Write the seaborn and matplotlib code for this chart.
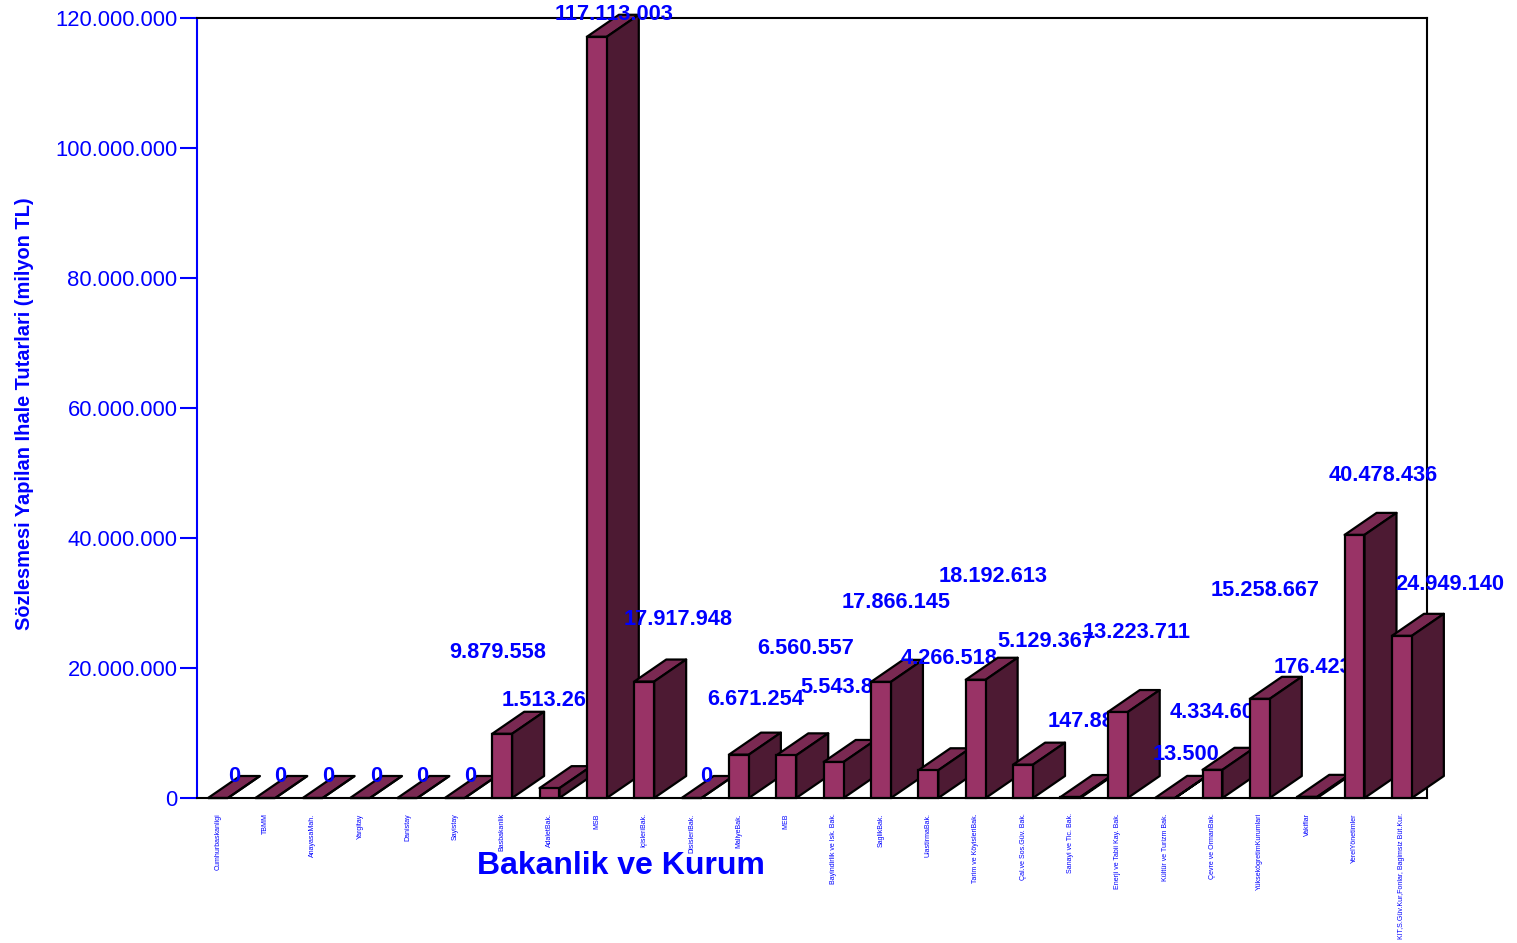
import matplotlib
matplotlib.use('Agg')
import matplotlib.pyplot as plt
from matplotlib.patches import Polygon
from matplotlib.ticker import FuncFormatter
import pandas as pd
import seaborn as sns

kurumlar = ['Cumhurbaskanligi', 'TBMM', 'AnayasaMah.', 'Yargitay', 'Danistay', 'Sayistay',
            'Basbakanlik', 'AdaletBak.', 'MSB', 'IçisleriBak.', 'DisisleriBak.', 'MaliyeBak.',
            'MEB', 'Bayindirlik ve Isk. Bak.', 'SaglikBak.', 'UlastirmaBak.',
            'Tarim ve KöyisleriBak.', 'Çal.ve Sos.Güv. Bak.', 'Sanayi ve Tic. Bak.',
            'Enerji ve Tabii Kay. Bak.', 'Kültür ve Turizm Bak.', 'Çevre ve OrmanBak.',
            'YüksekögretimKurumlari', 'Vakiflar', 'YerelYönetimler',
            'KIT,S.Güv.Kur,Fonlar, Bagimsiz Büt.Kur.']
tutarlar = [0, 0, 0, 0, 0, 0, 9879558, 1513262, 117113003, 17917948, 0, 6671254, 6560557,
            5543840, 17866145, 4266518, 18192613, 5129367, 147880, 13223711, 13500, 4334600,
            15258667, 176423, 40478436, 24949140]
y_ticks = [0, 20000000, 40000000, 60000000, 80000000, 100000000, 120000000]

# etiketlerin cubuk tepesine gore kaymasi (piksel)
label_dx = [16, 14.6, 15.3, 16, 14.6, 15.2, -4, 1, 17.2, 33.9, 14.5, 17, 19.8, 15, 15, 20.8,
            17.4, 23, 16.7, 18.4, 21, 6, 5.3, 6, 28.6, 48]
label_dy = [21, 21, 21, 21, 21, 21, 81.5, 87.5, 22.5, 62.5, 21, 55.5, 106.5, 74.5, 79.5, 111.5,
            103.5, 123.5, 75.5, 79.5, 43.5, 57.5, 108.5, 129.5, 59.5, 51.5]

front_col = '#993366'
top_col = '#7a2952'
side_col = '#4d1a33'
depth_x = 32
depth_y = 22

def nokta(v, pos=None):
    return f'{int(v):,}'.replace(',', '.')

sns.set_style('white')
plt.rcParams['font.family'] = ['Liberation Sans', 'DejaVu Sans']

df = pd.DataFrame({'kurum': kurumlar, 'tutar': tutarlar})

fig = plt.figure(figsize=(15.17, 9.43), dpi=100)
ax = fig.add_axes([197/1517, 145/943, 1230/1517, 780/943])
sns.barplot(data=df, x='kurum', y='tutar', color=front_col, saturation=1, width=0.42,
            edgecolor='black', linewidth=1.6, ax=ax)
ax.set_xlim(-0.4435, 25.53)
ax.set_ylim(0, 120000000)

px_x = 1230 / (25.53 + 0.4435)
px_y = 780 / 120000000
dx = depth_x / px_x
dy = depth_y / px_y

for i, bar in enumerate(ax.patches):
    x0 = bar.get_x()
    x1 = x0 + bar.get_width()
    h = bar.get_height()
    z = 10 + 3 * i
    bar.set_zorder(z + 1)
    bar.set_clip_on(False)
    ax.add_patch(Polygon([(x0, h), (x1, h), (x1 + dx, h + dy), (x0 + dx, h + dy)], closed=True,
                         facecolor=top_col, edgecolor='black', linewidth=1.6, zorder=z,
                         clip_on=False, joinstyle='round'))
    ax.add_patch(Polygon([(x1, 0), (x1, h), (x1 + dx, h + dy), (x1 + dx, dy)], closed=True,
                         facecolor=side_col, edgecolor='black', linewidth=1.6, zorder=z,
                         clip_on=False, joinstyle='round'))
    ax.annotate(nokta(tutarlar[i]), (x0 + bar.get_width() / 2, h),
                xytext=(label_dx[i], label_dy[i]), textcoords='offset pixels',
                ha='center', va='center', color='#0000ff', fontsize=15.7, fontweight='bold',
                zorder=z + 2, annotation_clip=False)

ax.set_yticks(y_ticks)
ax.yaxis.set_major_formatter(FuncFormatter(nokta))
ax.tick_params(axis='y', colors='#0000ff', length=12, width=1.5, pad=2, labelsize=15.8, left=True)
ax.tick_params(axis='x', length=0, pad=11, labelsize=5, labelcolor='#0000ff', labelrotation=90)

for s in ['top', 'right', 'bottom']:
    ax.spines[s].set_visible(True)
    ax.spines[s].set_color('black')
    ax.spines[s].set_linewidth(1.5)
ax.spines['left'].set_visible(True)
ax.spines['left'].set_color('#0000ff')
ax.spines['left'].set_linewidth(1.5)

ax.set_xlabel('')
ax.set_ylabel('')
fig.text(621/1517, 1 - 866/943, 'Bakanlik ve Kurum', color='#0000ff', fontsize=23,
         fontweight='bold', ha='center', va='center')
fig.text(25/1517, 1 - 414/943, 'Sözlesmesi Yapilan Ihale Tutarlari (milyon TL)', color='#0000ff',
         fontsize=14.4, fontweight='bold', rotation=90, ha='center', va='center')

fig.savefig('out.png', dpi=100)
